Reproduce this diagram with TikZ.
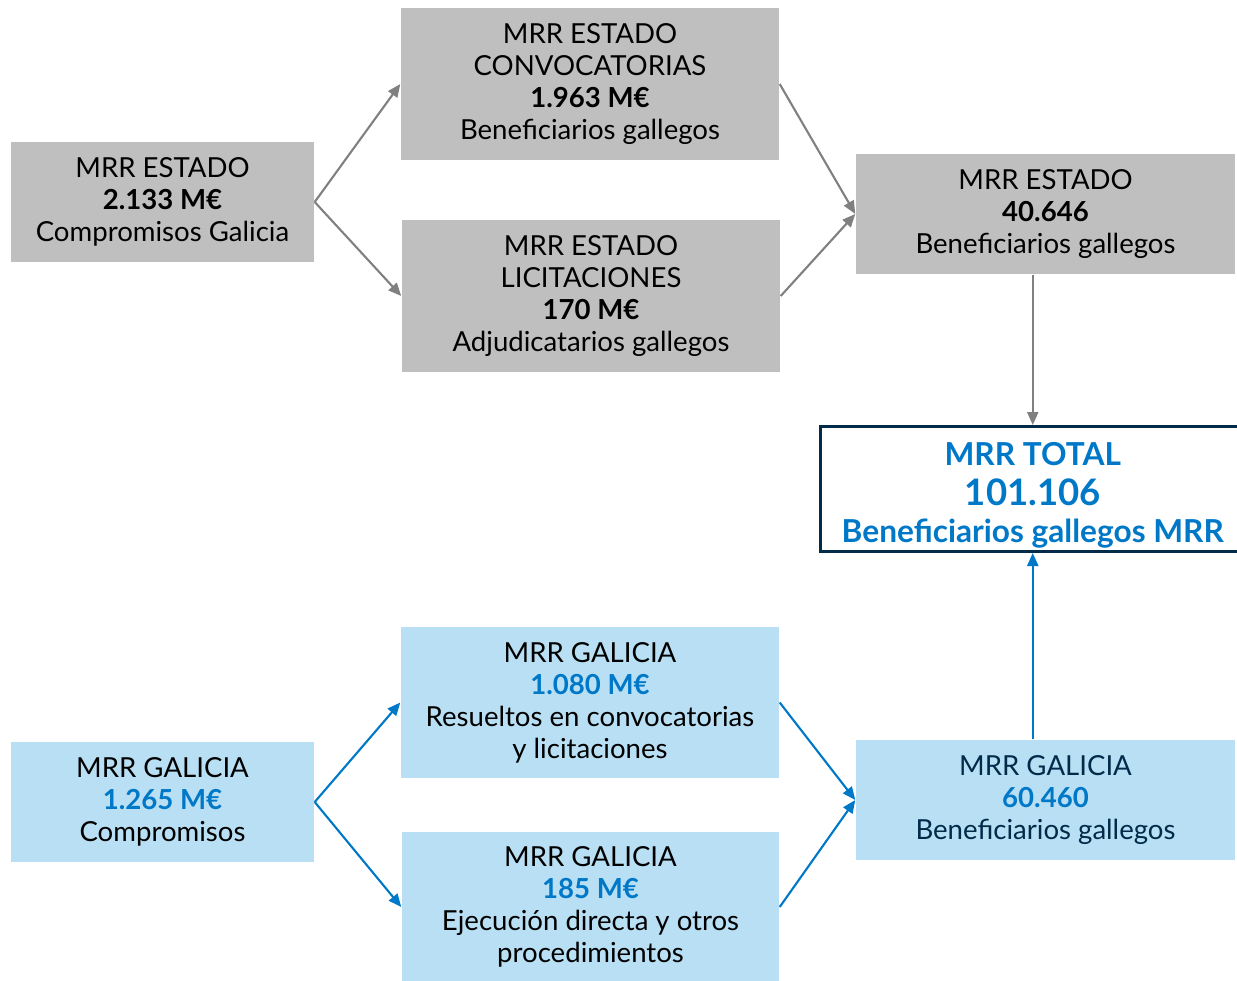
\documentclass[tikz,border=0pt]{standalone}
\usepackage{fontspec}
\setmainfont{Lato}
\usetikzlibrary{arrows.meta}
\definecolor{gris}{RGB}{191,191,191}
\definecolor{celeste}{RGB}{184,223,243}
\definecolor{azul}{RGB}{0,120,200}
\definecolor{marino}{RGB}{0,43,73}
\definecolor{flechagris}{RGB}{128,128,128}
\tikzset{%
  caja/.style    = {shape=rectangle, align=center, inner sep=0pt,%
                    font=\fontsize{7.85}{9.1}\selectfont},%
  estado/.style  = {caja, fill=gris},%
  galicia/.style = {caja, fill=celeste},%
  total/.style   = {caja, draw=marino, line width=0.85pt, fill=white,%
                    text=azul, font=\fontsize{9}{11.4}\selectfont\bfseries}%
}
\begin{document}
\begin{tikzpicture}[x=0.1mm,y=-0.1mm,
	gflecha/.style={draw=flechagris, line width=0.6pt, -{Triangle[length=1.3mm,width=1.1mm]}},
	aflecha/.style={draw=azul, line width=0.6pt, -{Triangle[length=1.3mm,width=1.1mm]}}]
\useasboundingbox (0,0) rectangle (1237,980);
	% estado
	\node [estado, minimum width=30.3mm, minimum height=12mm] (est) at (162.5,202)
		{MRR ESTADO\\ \textbf{2.133 M€}\\ Compromisos Galicia};
	\node [estado, minimum width=37.8mm, minimum height=15.2mm] (conv) at (590,84)
		{MRR ESTADO\\ CONVOCATORIAS\\ \textbf{1.963 M€}\\ Beneficiarios gallegos};
	\node [estado, minimum width=37.8mm, minimum height=15.2mm] (lic) at (591,296)
		{MRR ESTADO\\ LICITACIONES\\ \textbf{170 M€}\\ Adjudicatarios gallegos};
	\node [estado, minimum width=37.9mm, minimum height=12mm] (estben) at (1045.5,214)
		{MRR ESTADO\\ \textbf{40.646}\\ Beneficiarios gallegos};
	% total
	\node [total, minimum width=42.45mm, minimum height=12.5mm] (tot) at (1032.75,489)
		{\rule{0pt}{10pt}MRR TOTAL\\ {\fontsize{10.4}{11.4}\selectfont 101.106}\\[-0.3mm] Beneficiarios gallegos MRR};
	% galicia
	\node [galicia, minimum width=30.3mm, minimum height=12mm] (gal) at (162.5,802)
		{MRR GALICIA\\ \textcolor{azul}{\textbf{1.265 M€}}\\ Compromisos};
	\node [galicia, minimum width=37.8mm, minimum height=15.1mm] (res) at (590,702.5)
		{MRR GALICIA\\ \textcolor{azul}{\textbf{1.080 M€}}\\ Resueltos en convocatorias\\ y licitaciones};
	\node [galicia, minimum width=37.7mm, minimum height=15mm] (ejec) at (590.5,907)
		{MRR GALICIA\\ \textcolor{azul}{\textbf{185 M€}}\\ Ejecución directa y otros\\ procedimientos};
	\node [galicia, minimum width=37.9mm, minimum height=12mm, text=marino] (galben) at (1045.5,800)
		{MRR GALICIA\\ \textcolor{azul}{\textbf{60.460}}\\ Beneficiarios gallegos};
	% flechas
	\draw [gflecha] (est.east) -- (conv.west);
	\draw [gflecha] (est.east) -- (lic.west);
	\draw [gflecha] (conv.east) -- (estben.west);
	\draw [gflecha] (lic.east) -- (estben.west);
	\draw [gflecha] (estben.south -| tot) -- (tot.north);
	\draw [aflecha] (gal.east) -- (res.west);
	\draw [aflecha] (gal.east) -- (ejec.west);
	\draw [aflecha] (res.east) -- (galben.west);
	\draw [aflecha] (ejec.east) -- (galben.west);
	\draw [aflecha] (galben.north -| tot) -- (tot.south);
\end{tikzpicture}
\end{document}
